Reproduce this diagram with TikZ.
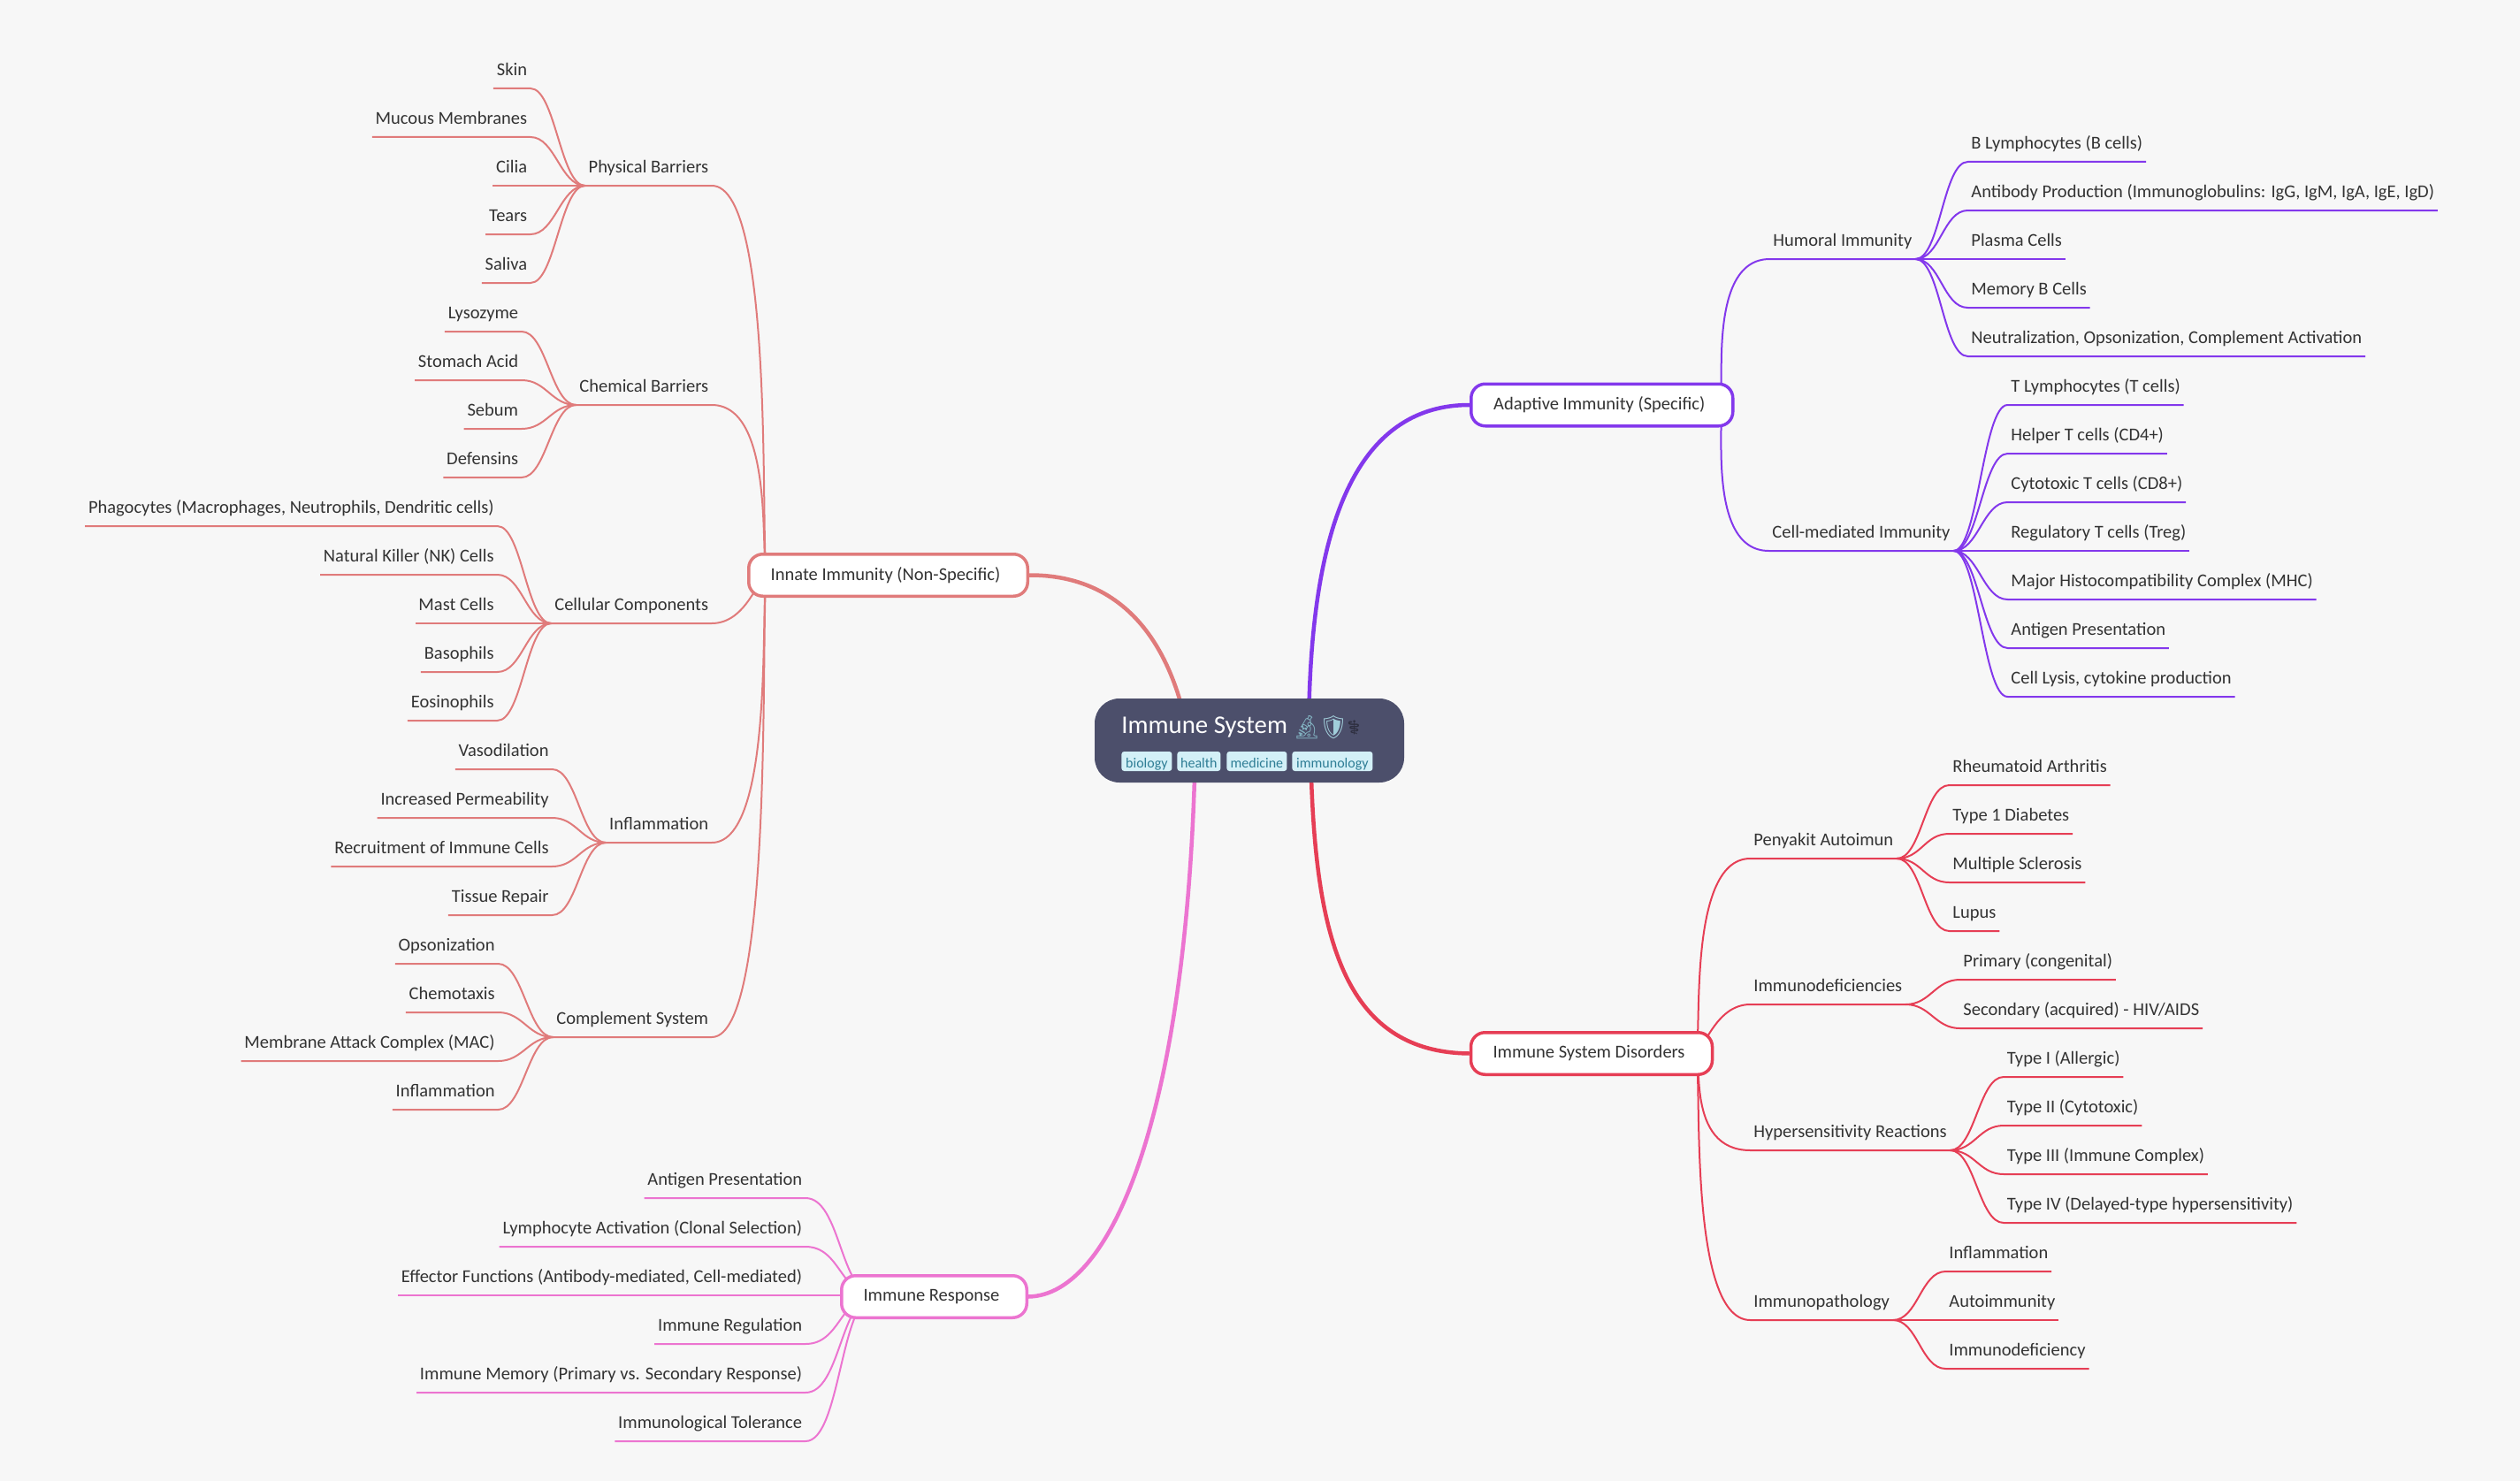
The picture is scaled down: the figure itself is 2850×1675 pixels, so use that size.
\documentclass[tikz,border=0pt]{standalone}
\usepackage{fontspec}
\setmainfont{Carlito}
\newfontfamily\emojifont{Noto Emoji}
\definecolor{canvas}{HTML}{F7F7F7}
\definecolor{rootfill}{HTML}{4C4F6B}
\definecolor{tagfill}{HTML}{D3F0F7}
\definecolor{tagtext}{HTML}{2E7D95}
\definecolor{innatered}{HTML}{E07B7B}
\definecolor{adaptivepurple}{HTML}{8338EC}
\definecolor{disorderred}{HTML}{E63E55}
\definecolor{responsepink}{HTML}{EC74D0}
\definecolor{inktext}{HTML}{333333}
\pgfdeclarelayer{links}
\pgfsetlayers{links,main}

\begin{document}
\begin{tikzpicture}[x=0.5pt,y=-0.5pt,
    every node/.style={font=\fontsize{10.25}{12}\selectfont, text=inktext},
    leafleft/.style={anchor=south east, inner xsep=1.75pt, inner ysep=0pt, text height=8pt, text depth=7pt},
    leafright/.style={anchor=south west, inner xsep=1.75pt, inner ysep=0pt, text height=8pt, text depth=7pt},
    mainbranch/.style={line width=1.75pt, fill=white, rounded corners=8pt, minimum height=23.75pt, inner sep=0pt, execute at begin node={\hspace*{-3pt}}},
    tag/.style={anchor=west, fill=tagfill, text=tagtext, rounded corners=1.5pt, text height=9pt, text depth=2pt, inner sep=0pt, font=\fontsize{8}{10}\selectfont},
    innateline/.style={innatered, line width=1pt},
    adaptiveline/.style={adaptivepurple, line width=1pt},
    disorderline/.style={disorderred, line width=1pt},
    responseline/.style={responsepink, line width=1pt},
    twigleft/.style={to path={.. controls +(-28,0) and +(28,0) .. (\tikztotarget)}},
    twigright/.style={to path={.. controls +(28,0) and +(-28,0) .. (\tikztotarget)}},
    twigwide/.style={to path={.. controls +(-40,0) and +(40,0) .. (\tikztotarget)}}]
   \useasboundingbox (0,0) rectangle (2850,1675);

   % root
   \node[fill=rootfill, rounded corners=14pt, minimum width=175pt, minimum height=47.5pt] (root) at (1413,837.5) {};
   \node[anchor=base west, inner sep=0pt, text=white, font=\fontsize{14.4}{16}\selectfont] (title) at (1268,829) {Immune System};
   \node[anchor=center, inner sep=0pt, text=tagtext!60, font=\emojifont\fontsize{13}{14}\selectfont] (microscope) at (1478,823) {🔬};
   \node[anchor=center, inner sep=0pt, text=tagfill!70!tagtext, font=\emojifont\fontsize{13}{14}\selectfont] (shield) at (1508,823) {🛡};
   \node[anchor=center, inner sep=0pt, text=rootfill!60!black, font=\emojifont\fontsize{8}{10}\selectfont] (staff) at (1531,823) {⚕};
   \node[tag, minimum width=28.5pt] (biology) at (1268,861) {biology};
   \node[tag, minimum width=24.5pt] (health) at (1331,861) {health};
   \node[tag, minimum width=34pt] (medicine) at (1387,861) {medicine};
   \node[tag, minimum width=45.5pt] (immunology) at (1461,861) {immunology};

   % main branches
   \node[mainbranch, draw=innatered, minimum width=157.75pt] (innate) at (1004.5,650.5) {Innate Immunity (Non-Specific)};
   \node[mainbranch, draw=responsepink, minimum width=104.75pt] (response) at (1056.5,1466.5) {Immune Response};
   \node[mainbranch, draw=adaptivepurple, minimum width=148pt] (adaptive) at (1811.75,458) {Adaptive Immunity (Specific)};
   \node[mainbranch, draw=disorderred, minimum width=136.5pt] (disorders) at (1800,1191.5) {Immune System Disorders};

   \coordinate (innatehub) at (868,650);
   \coordinate (responsehub) at (990,1465);
   \coordinate (adaptivehub) at (1944,458);
   \coordinate (disorderhub) at (1917,1190);
   \coordinate (rootnw) at (1345,838);
   \coordinate (rootsw) at (1352,838);
   \coordinate (rootne) at (1480,838);
   \coordinate (rootse) at (1482,838);

   % innate side
   \node[leafleft] (physical) at (805,210) {Physical Barriers};
   \node[leafleft] (skin) at (600,100) {Skin};
   \node[leafleft] (mucous) at (600,155) {Mucous Membranes};
   \node[leafleft] (cilia) at (600,210) {Cilia};
   \node[leafleft] (tears) at (600,265) {Tears};
   \node[leafleft] (saliva) at (600,320) {Saliva};

   \node[leafleft] (chemical) at (805,458) {Chemical Barriers};
   \node[leafleft] (lysozyme) at (590,375) {Lysozyme};
   \node[leafleft] (stomach) at (590,430) {Stomach Acid};
   \node[leafleft] (sebum) at (590,485) {Sebum};
   \node[leafleft] (defensins) at (590,540) {Defensins};

   \node[leafleft] (cellular) at (805,705) {Cellular Components};
   \node[leafleft] (phagocytes) at (562.5,595) {Phagocytes (Macrophages, Neutrophils, Dendritic cells)};
   \node[leafleft] (nkcells) at (562.5,650) {Natural Killer (NK) Cells};
   \node[leafleft] (mastcells) at (562.5,705) {Mast Cells};
   \node[leafleft] (basophils) at (562.5,760) {Basophils};
   \node[leafleft] (eosinophils) at (562.5,815) {Eosinophils};

   \node[leafleft] (inflammation) at (805,953) {Inflammation};
   \node[leafleft] (vasodilation) at (624.5,870) {Vasodilation};
   \node[leafleft] (permeability) at (624.5,925) {Increased Permeability};
   \node[leafleft] (recruitment) at (624.5,980) {Recruitment of Immune Cells};
   \node[leafleft] (tissuerepair) at (624.5,1035) {Tissue Repair};

   \node[leafleft] (complement) at (805,1173) {Complement System};
   \node[leafleft] (opsonization) at (563.5,1090) {Opsonization};
   \node[leafleft] (chemotaxis) at (563.5,1145) {Chemotaxis};
   \node[leafleft] (mac) at (563.5,1200) {Membrane Attack Complex (MAC)};
   \node[leafleft] (inflamcomp) at (563.5,1255) {Inflammation};

   % response side
   \node[leafleft] (antigenresp) at (911,1355) {Antigen Presentation};
   \node[leafleft] (lymphoactiv) at (911,1410) {Lymphocyte Activation (Clonal Selection)};
   \node[leafleft] (effector) at (911,1465) {Effector Functions (Antibody-mediated, Cell-mediated)};
   \node[leafleft] (regulation) at (911,1520) {Immune Regulation};
   \node[leafleft] (memory) at (911,1575) {Immune Memory (Primary vs. Secondary Response)};
   \node[leafleft] (tolerance) at (911,1630) {Immunological Tolerance};

   % adaptive side
   \node[leafright] (humoral) at (2001.5,293) {Humoral Immunity};
   \node[leafright] (blymph) at (2225.5,183) {B Lymphocytes (B cells)};
   \node[leafright] (antibody) at (2225.5,238) {Antibody Production (Immunoglobulins: IgG, IgM, IgA, IgE, IgD)};
   \node[leafright] (plasma) at (2225.5,293) {Plasma Cells};
   \node[leafright] (memoryb) at (2225.5,348) {Memory B Cells};
   \node[leafright] (neutral) at (2225.5,403) {Neutralization, Opsonization, Complement Activation};

   \node[leafright] (cellmed) at (2000.5,623) {Cell-mediated Immunity};
   \node[leafright] (tlymph) at (2270.5,458) {T Lymphocytes (T cells)};
   \node[leafright] (helper) at (2270.5,513) {Helper T cells (CD4+)};
   \node[leafright] (cytotoxic) at (2270.5,568) {Cytotoxic T cells (CD8+)};
   \node[leafright] (regulatory) at (2270.5,623) {Regulatory T cells (Treg)};
   \node[leafright] (mhc) at (2270.5,678) {Major Histocompatibility Complex (MHC)};
   \node[leafright] (antigenpres) at (2270.5,733) {Antigen Presentation};
   \node[leafright] (lysis) at (2270.5,788) {Cell Lysis, cytokine production};

   % disorders side
   \node[leafright] (penyakit) at (1979.5,971) {Penyakit Autoimun};
   \node[leafright] (rheumatoid) at (2204.5,888) {Rheumatoid Arthritis};
   \node[leafright] (diabetes) at (2204.5,943) {Type 1 Diabetes};
   \node[leafright] (sclerosis) at (2204.5,998) {Multiple Sclerosis};
   \node[leafright] (lupus) at (2204.5,1053) {Lupus};

   \node[leafright] (deficiencies) at (1979.5,1136) {Immunodeficiencies};
   \node[leafright] (primary) at (2216.5,1108) {Primary (congenital)};
   \node[leafright] (secondary) at (2216.5,1163) {Secondary (acquired) - HIV/AIDS};

   \node[leafright] (hyper) at (1979.5,1301) {Hypersensitivity Reactions};
   \node[leafright] (typeone) at (2266,1218) {Type I (Allergic)};
   \node[leafright] (typetwo) at (2266,1273) {Type II (Cytotoxic)};
   \node[leafright] (typethree) at (2266,1328) {Type III (Immune Complex)};
   \node[leafright] (typefour) at (2266,1383) {Type IV (Delayed-type hypersensitivity)};

   \node[leafright] (pathology) at (1979.5,1493) {Immunopathology};
   \node[leafright] (inflampath) at (2200.5,1438) {Inflammation};
   \node[leafright] (autoimmunity) at (2200.5,1493) {Autoimmunity};
   \node[leafright] (deficiency) at (2200.5,1548) {Immunodeficiency};

   \begin{pgfonlayer}{links}
   \fill[canvas] (0,0) rectangle (2850,1675);

   \draw[innatered, line width=2.25pt] (innate.east) .. controls (1265,650) and (1325,720) .. (rootnw);
   \draw[responsepink, line width=2.25pt] (response.east) .. controls (1260,1465) and (1345,1250) .. (rootsw);
   \draw[adaptivepurple, line width=2.25pt] (adaptive.west) .. controls (1510,458) and (1480,650) .. (rootne);
   \draw[disorderred, line width=2.25pt] (disorders.west) .. controls (1510,1190) and (1485,1040) .. (rootse);

   \draw[innateline] (physical.south west) -- (physical.south east) .. controls +(75,0) and +(-10,0) .. (innatehub);
   \draw[innateline] (chemical.south west) -- (chemical.south east) .. controls +(75,0) and +(-10,0) .. (innatehub);
   \draw[innateline] (cellular.south west) -- (cellular.south east) .. controls +(40,0) and +(-10,0) .. (innatehub);
   \draw[innateline] (inflammation.south west) -- (inflammation.south east) .. controls +(75,0) and +(-10,0) .. (innatehub);
   \draw[innateline] (complement.south west) -- (complement.south east) .. controls +(75,0) and +(-10,0) .. (innatehub);

   \draw[innateline] (physical.south west) to[twigleft] (skin.south east) -- (skin.south west);
   \draw[innateline] (physical.south west) to[twigleft] (mucous.south east) -- (mucous.south west);
   \draw[innateline] (physical.south west) to[twigleft] (cilia.south east) -- (cilia.south west);
   \draw[innateline] (physical.south west) to[twigleft] (tears.south east) -- (tears.south west);
   \draw[innateline] (physical.south west) to[twigleft] (saliva.south east) -- (saliva.south west);

   \draw[innateline] (chemical.south west) to[twigleft] (lysozyme.south east) -- (lysozyme.south west);
   \draw[innateline] (chemical.south west) to[twigleft] (stomach.south east) -- (stomach.south west);
   \draw[innateline] (chemical.south west) to[twigleft] (sebum.south east) -- (sebum.south west);
   \draw[innateline] (chemical.south west) to[twigleft] (defensins.south east) -- (defensins.south west);

   \draw[innateline] (cellular.south west) to[twigleft] (phagocytes.south east) -- (phagocytes.south west);
   \draw[innateline] (cellular.south west) to[twigleft] (nkcells.south east) -- (nkcells.south west);
   \draw[innateline] (cellular.south west) to[twigleft] (mastcells.south east) -- (mastcells.south west);
   \draw[innateline] (cellular.south west) to[twigleft] (basophils.south east) -- (basophils.south west);
   \draw[innateline] (cellular.south west) to[twigleft] (eosinophils.south east) -- (eosinophils.south west);

   \draw[innateline] (inflammation.south west) to[twigleft] (vasodilation.south east) -- (vasodilation.south west);
   \draw[innateline] (inflammation.south west) to[twigleft] (permeability.south east) -- (permeability.south west);
   \draw[innateline] (inflammation.south west) to[twigleft] (recruitment.south east) -- (recruitment.south west);
   \draw[innateline] (inflammation.south west) to[twigleft] (tissuerepair.south east) -- (tissuerepair.south west);

   \draw[innateline] (complement.south west) to[twigleft] (opsonization.south east) -- (opsonization.south west);
   \draw[innateline] (complement.south west) to[twigleft] (chemotaxis.south east) -- (chemotaxis.south west);
   \draw[innateline] (complement.south west) to[twigleft] (mac.south east) -- (mac.south west);
   \draw[innateline] (complement.south west) to[twigleft] (inflamcomp.south east) -- (inflamcomp.south west);

   \draw[responseline] (responsehub) to[twigwide] (antigenresp.south east) -- (antigenresp.south west);
   \draw[responseline] (responsehub) to[twigwide] (lymphoactiv.south east) -- (lymphoactiv.south west);
   \draw[responseline] (responsehub) to[twigwide] (effector.south east) -- (effector.south west);
   \draw[responseline] (responsehub) to[twigwide] (regulation.south east) -- (regulation.south west);
   \draw[responseline] (responsehub) to[twigwide] (memory.south east) -- (memory.south west);
   \draw[responseline] (responsehub) to[twigwide] (tolerance.south east) -- (tolerance.south west);

   \draw[adaptiveline] (humoral.south east) -- (humoral.south west) .. controls +(-75,0) and +(10,0) .. (adaptivehub);
   \draw[adaptiveline] (cellmed.south east) -- (cellmed.south west) .. controls +(-75,0) and +(10,0) .. (adaptivehub);

   \draw[adaptiveline] (humoral.south east) to[twigright] (blymph.south west) -- (blymph.south east);
   \draw[adaptiveline] (humoral.south east) to[twigright] (antibody.south west) -- (antibody.south east);
   \draw[adaptiveline] (humoral.south east) to[twigright] (plasma.south west) -- (plasma.south east);
   \draw[adaptiveline] (humoral.south east) to[twigright] (memoryb.south west) -- (memoryb.south east);
   \draw[adaptiveline] (humoral.south east) to[twigright] (neutral.south west) -- (neutral.south east);

   \draw[adaptiveline] (cellmed.south east) to[twigright] (tlymph.south west) -- (tlymph.south east);
   \draw[adaptiveline] (cellmed.south east) to[twigright] (helper.south west) -- (helper.south east);
   \draw[adaptiveline] (cellmed.south east) to[twigright] (cytotoxic.south west) -- (cytotoxic.south east);
   \draw[adaptiveline] (cellmed.south east) to[twigright] (regulatory.south west) -- (regulatory.south east);
   \draw[adaptiveline] (cellmed.south east) to[twigright] (mhc.south west) -- (mhc.south east);
   \draw[adaptiveline] (cellmed.south east) to[twigright] (antigenpres.south west) -- (antigenpres.south east);
   \draw[adaptiveline] (cellmed.south east) to[twigright] (lysis.south west) -- (lysis.south east);

   \draw[disorderline] (penyakit.south east) -- (penyakit.south west) .. controls +(-75,0) and +(10,0) .. (disorderhub);
   \draw[disorderline] (deficiencies.south east) -- (deficiencies.south west) .. controls +(-40,0) and +(10,0) .. (disorderhub);
   \draw[disorderline] (hyper.south east) -- (hyper.south west) .. controls +(-75,0) and +(10,0) .. (disorderhub);
   \draw[disorderline] (pathology.south east) -- (pathology.south west) .. controls +(-75,0) and +(10,0) .. (disorderhub);

   \draw[disorderline] (penyakit.south east) to[twigright] (rheumatoid.south west) -- (rheumatoid.south east);
   \draw[disorderline] (penyakit.south east) to[twigright] (diabetes.south west) -- (diabetes.south east);
   \draw[disorderline] (penyakit.south east) to[twigright] (sclerosis.south west) -- (sclerosis.south east);
   \draw[disorderline] (penyakit.south east) to[twigright] (lupus.south west) -- (lupus.south east);

   \draw[disorderline] (deficiencies.south east) to[twigright] (primary.south west) -- (primary.south east);
   \draw[disorderline] (deficiencies.south east) to[twigright] (secondary.south west) -- (secondary.south east);

   \draw[disorderline] (hyper.south east) to[twigright] (typeone.south west) -- (typeone.south east);
   \draw[disorderline] (hyper.south east) to[twigright] (typetwo.south west) -- (typetwo.south east);
   \draw[disorderline] (hyper.south east) to[twigright] (typethree.south west) -- (typethree.south east);
   \draw[disorderline] (hyper.south east) to[twigright] (typefour.south west) -- (typefour.south east);

   \draw[disorderline] (pathology.south east) to[twigright] (inflampath.south west) -- (inflampath.south east);
   \draw[disorderline] (pathology.south east) to[twigright] (autoimmunity.south west) -- (autoimmunity.south east);
   \draw[disorderline] (pathology.south east) to[twigright] (deficiency.south west) -- (deficiency.south east);
   \end{pgfonlayer}
\end{tikzpicture}
\end{document}
